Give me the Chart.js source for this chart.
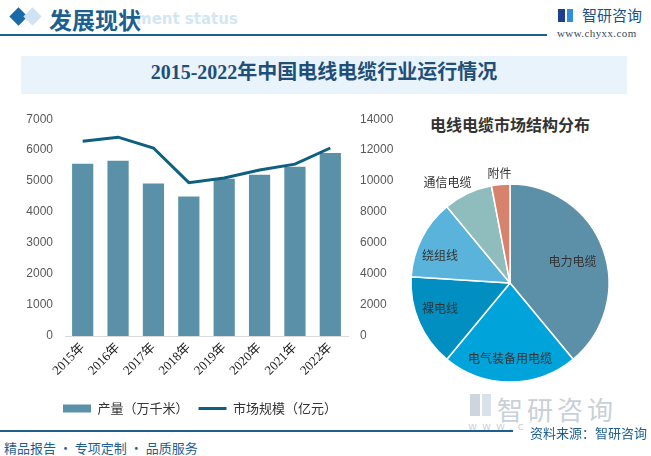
<!DOCTYPE html>
<html lang="zh-CN">
<head>
<meta charset="UTF-8">
<title>2015-2022年中国电线电缆行业运行情况</title>
<script src="https://cdn.jsdelivr.net/npm/chart.js"></script>
<style>
  body { margin: 0; background: #fff; font-family: "Noto Sans CJK SC", sans-serif; }
  .page { position: relative; width: 651px; height: 456px; overflow: hidden; background: #fff; }
  .abs { position: absolute; white-space: nowrap; }
  .dia { position: absolute; width: 13px; height: 13px; transform: rotate(45deg); }
  .ghost { left: 136px; top: 11px; font-family: "DejaVu Sans", sans-serif; font-weight: bold; font-size: 15px; line-height: 17px; color: #d3e6f4; }
  .head { left: 49px; top: 2px; font: bold 23px "Noto Sans CJK SC", sans-serif; color: #1d5f91; }
  .rule { position: absolute; height: 2px; background: #1d5f91; }
  .banner { left: 21px; top: 56px; width: 606px; height: 38px; background: #e8f3fb; }
  .title { left: 21px; top: 56px; width: 606px; height: 38px; line-height: 38px; text-align: center;
           font: bold 20px "Liberation Serif", "Noto Sans CJK SC", serif; color: #1f4e79; }
  .pieTitle { left: 400px; top: 112px; width: 220px; text-align: center; font: bold 16px "Noto Sans CJK SC", sans-serif; color: #333; }
  .wm { left: 497px; top: 390px; font: 26px "Noto Sans CJK SC", sans-serif; color: #c9d0d7; letter-spacing: 4px; }
  .wmurl { left: 468px; top: 420px; font: 11px "DejaVu Sans", sans-serif; color: #cfd5da; letter-spacing: 5px; }
  .src { left: 528px; top: 423px; font: 13px "Noto Sans CJK SC", sans-serif; color: #1d5f91; background: #fff; padding-left: 2px; }
  .foot { left: 4px; top: 438px; font: 13px "Noto Sans CJK SC", sans-serif; color: #1d5f91; }
  canvas { position: absolute; }
</style>
</head>
<body>
<div class="page">
  <div class="dia" style="left:12px;top:10px;background:#1a6aa8"></div>
  <div class="dia" style="left:26px;top:10px;background:#cfe3f2"></div>
  <div class="abs ghost">ment status</div>
  <div class="abs head">发展现状</div>
  <div class="rule" style="left:0;top:34px;width:547px"></div>

  <div class="abs" style="left:558px;top:9px;width:7px;height:13px;background:#1e3f8a"></div>
  <div class="abs" style="left:567px;top:9px;width:6px;height:13px;background:#2f8fd8"></div>
  <div class="abs" style="left:582px;top:4px;font:15px 'Noto Sans CJK SC';color:#1d4f8a">智研咨询</div>
  <div class="abs" style="left:557px;top:27px;font:11px 'Liberation Serif', serif;color:#3b4a5a;letter-spacing:0.4px">www.chyxx.com</div>

  <div class="abs banner"></div>
  <div class="abs title">2015-2022年中国电线电缆行业运行情况</div>

  <div class="abs" style="left:470px;top:394px;width:10px;height:22px;background:#cdd5dd"></div>
  <div class="abs" style="left:482px;top:394px;width:9px;height:22px;background:#d9e2ea"></div>
  <div class="abs wm">智研咨询</div>
  <div class="abs wmurl">www.chyxx.com</div>

  <canvas id="barChart" style="left:0;top:100px" width="400" height="325"></canvas>
  <div class="abs pieTitle">电线电缆市场结构分布</div>
  <canvas id="pieChart" style="left:380px;top:150px" width="260" height="266"></canvas>

  <div class="rule" style="left:0;top:430px;width:513px;height:1.5px"></div>
  <div class="abs src">资料来源：智研咨询</div>
  <div class="abs foot">精品报告 · 专项定制 · 品质服务</div>
</div>

<script>
const years = ['2015年', '2016年', '2017年', '2018年', '2019年', '2020年', '2021年', '2022年'];
const output = [5560, 5655, 4920, 4505, 5080, 5210, 5465, 5910];      // 产量（万千米）
const marketSize = [12570, 12840, 12140, 9900, 10200, 10720, 11100, 12140]; // 市场规模（亿元）

const segments = ['电力电缆', '电气装备用电缆', '裸电线', '绕组线', '通信电缆', '附件'];
const shares = [39, 22, 15, 13, 8, 3];
const segColors = ['#5b90a8', '#00a3da', '#008fc0', '#5ab3da', '#8fbdbd', '#d6826d'];

const cjk = '"Noto Sans CJK SC", sans-serif';
const plain = v => String(v);

new Chart(document.getElementById('barChart'), {
    data: {
        labels: years,
        datasets: [
            {
                type: 'line',
                label: '市场规模（亿元）',
                data: marketSize,
                yAxisID: 'y1',
                borderColor: '#0e5f80',
                backgroundColor: '#0e5f80',
                borderWidth: 3,
                pointRadius: 0,
                tension: 0,
                order: 0
            },
            {
                type: 'bar',
                label: '产量（万千米）',
                data: output,
                yAxisID: 'y',
                backgroundColor: '#5b91a8',
                barPercentage: 0.6,
                categoryPercentage: 1,
                order: 1
            }
        ]
    },
    options: {
        responsive: false,
        animation: false,
        layout: { padding: { top: 14 } },
        plugins: {
            tooltip: { enabled: false },
            legend: {
                position: 'bottom',
                reverse: true,
                labels: {
                    usePointStyle: true,
                    pointStyleWidth: 28,
                    boxHeight: 8,
                    padding: 10,
                    color: '#333',
                    font: { family: cjk, size: 13 },
                    generateLabels: function(chart) {
                        const items = Chart.defaults.plugins.legend.labels.generateLabels(chart);
                        items.forEach(it => {
                            const ds = chart.data.datasets[it.datasetIndex];
                            if (ds.type === 'line') {
                                it.pointStyle = 'line';
                                it.strokeStyle = '#0e5f80';
                                it.lineWidth = 3;
                            } else {
                                it.pointStyle = 'rect';
                                it.lineWidth = 0;
                            }
                        });
                        return items;
                    }
                }
            }
        },
        scales: {
            x: {
                grid: { display: false, drawTicks: false },
                border: { display: true, color: '#d9d9d9' },
                ticks: {
                    minRotation: 45,
                    maxRotation: 45,
                    padding: 4,
                    color: '#222',
                    font: { family: '"Liberation Serif", "Noto Sans CJK SC", serif', size: 13 }
                },
                afterFit: s => { s.height = 56; }
            },
            y: {
                position: 'left',
                min: 0,
                max: 7000,
                grid: { display: false, drawTicks: false },
                border: { display: false },
                ticks: { stepSize: 1000, padding: 12, color: '#595959', callback: plain,
                         font: { family: '"Liberation Sans", sans-serif', size: 12 } },
                afterFit: s => { s.width = 65; }
            },
            y1: {
                position: 'right',
                min: 0,
                max: 14000,
                grid: { display: false, drawTicks: false },
                border: { display: false },
                ticks: { stepSize: 2000, padding: 12, color: '#595959', callback: plain,
                         font: { family: '"Liberation Sans", sans-serif', size: 12 } },
                afterFit: s => { s.width = 52; }
            }
        }
    }
});

// labels drawn at positions derived from each arc
const sliceLabels = {
    id: 'sliceLabels',
    afterDatasetsDraw(chart, args, opts) {
        const ctx = chart.ctx;
        const arcs = chart.getDatasetMeta(0).data;
        ctx.save();
        ctx.font = '12px ' + cjk;
        ctx.fillStyle = '#333';
        ctx.textAlign = 'center';
        ctx.textBaseline = 'middle';
        arcs.forEach((arc, i) => {
            const mid = (arc.startAngle + arc.endAngle) / 2;
            const r = arc.outerRadius * opts.radial[i];
            const x = arc.x + Math.cos(mid) * r + opts.dx[i];
            const y = arc.y + Math.sin(mid) * r + opts.dy[i];
            ctx.fillText(chart.data.labels[i], x, y);
        });
        ctx.restore();
    }
};

new Chart(document.getElementById('pieChart'), {
    type: 'pie',
    data: {
        labels: segments,
        datasets: [{
            data: shares,
            backgroundColor: segColors,
            borderColor: '#fff',
            borderWidth: 1.5,
            radius: 99
        }]
    },
    options: {
        responsive: false,
        animation: false,
        plugins: {
            legend: { display: false },
            tooltip: { enabled: false },
            sliceLabels: {
                radial: [0.67, 0.75, 0.77, 0.76, 1.2, 1.12],
                dx: [0, 0, 0, -3, -12, 0],
                dy: [1, 1, -5, 7, 7, 1]
            }
        }
    },
    plugins: [sliceLabels]
});
</script>
</body>
</html>
